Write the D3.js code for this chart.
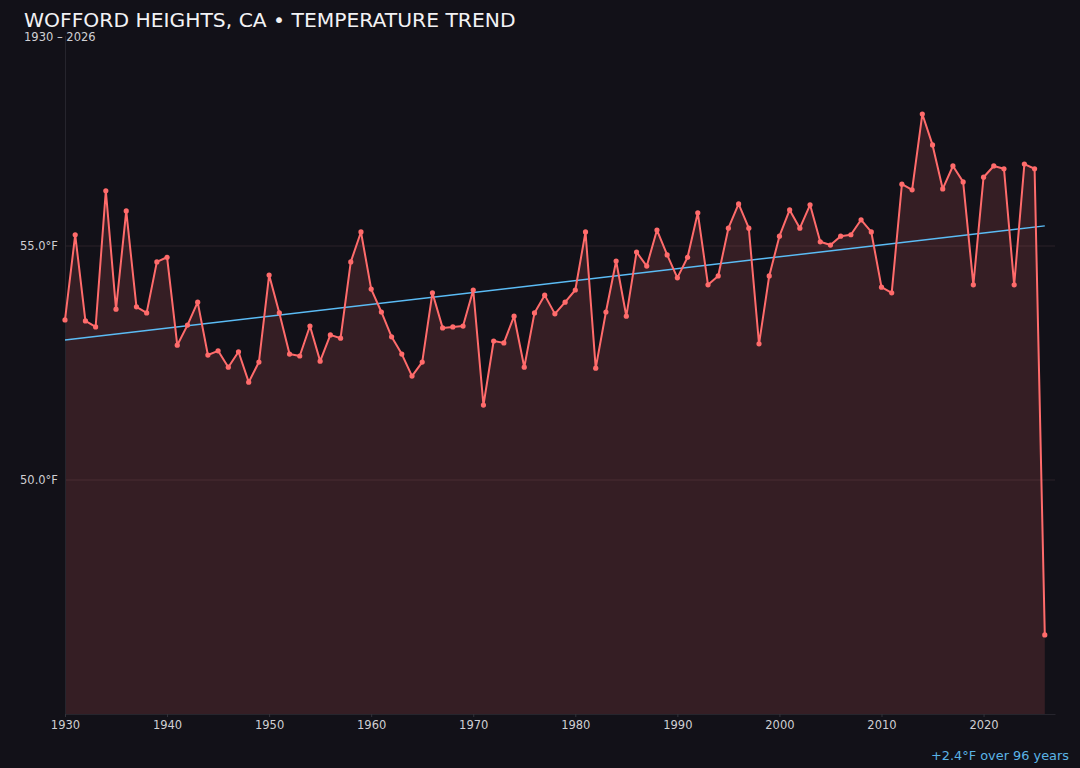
<!DOCTYPE html>
<html>
<head>
<meta charset="utf-8">
<script src="https://cdn.jsdelivr.net/npm/d3@7"></script>
<style>
  html, body { margin: 0; padding: 0; background: #121118; }
  svg { display: block; }
  text { font-family: "DejaVu Sans", sans-serif; }
</style>
</head>
<body>
<svg id="chart" width="1080" height="768"></svg>
<script>
const years = d3.range(1930, 2027);
const temps = [
  53.42, 55.24, 53.40, 53.27, 56.18, 53.65, 55.75, 53.70, 53.57, 54.66,
  54.76, 52.88, 53.31, 53.80, 52.67, 52.76, 52.41, 52.74, 52.09, 52.52,
  54.38, 53.57, 52.69, 52.65, 53.29, 52.54, 53.10, 53.03, 54.66, 55.30,
  54.08, 53.59, 53.06, 52.69, 52.22, 52.52, 54.00, 53.25, 53.27, 53.29,
  54.06, 51.60, 52.97, 52.93, 53.50, 52.41, 53.57, 53.95, 53.55, 53.80,
  54.06, 55.30, 52.39, 53.59, 54.68, 53.50, 54.87, 54.57, 55.34, 54.81,
  54.32, 54.76, 55.71, 54.17, 54.36, 55.38, 55.90, 55.38, 52.91, 54.36,
  55.21, 55.77, 55.38, 55.88, 55.09, 55.02, 55.21, 55.24, 55.56, 55.30,
  54.12, 54.00, 56.32, 56.20, 57.82, 57.16, 56.22, 56.71, 56.37, 54.17,
  56.47, 56.71, 56.65, 54.17, 56.75, 56.65, 46.69
];
const yTicks = [50, 55];
const xTicks = [1930, 1940, 1950, 1960, 1970, 1980, 1990, 2000, 2010, 2020];
const trendYears = [1930, 2026];
const trendValues = [52.99, 55.43];
const titleText = "WOFFORD HEIGHTS, CA • TEMPERATURE TREND";
const subtitleText = "1930 – 2026";
const noteText = "+2.4°F over 96 years";

const data = years.map((yr, i) => ({ year: yr, t: temps[i] }));
const svg = d3.select("#chart");
const mLeft = 65, mRight = 1055, mTop = 35.4, mBottom = 714;

const x = d3.scaleLinear().domain([1930, 2027]).range([mLeft, mRight]);
const y = d3.scaleLinear().domain([45, 59.5]).range([mBottom, mTop]);

// grid
svg.append("g").selectAll("line").data(yTicks).join("line")
  .attr("x1", mLeft).attr("x2", mRight)
  .attr("y1", d => y(d)).attr("y2", d => y(d))
  .attr("stroke", "#2a2228").attr("stroke-width", 1);

// area
const area = d3.area().x(d => x(d.year)).y0(y(45)).y1(d => y(d.t));
svg.append("path").datum(data).attr("d", area)
  .attr("fill", "#ff6b6b").attr("fill-opacity", 0.15);

// axes
const yAxis = svg.append("g").attr("transform", `translate(${mLeft},0)`)
  .call(d3.axisLeft(y).tickValues(yTicks).tickFormat(d => d.toFixed(1) + "°F").tickSize(0).tickPadding(7));
yAxis.select(".domain").attr("stroke", "#26252d");
yAxis.selectAll("text").attr("fill", "#cfcfd3").attr("font-size", 11.5)
  .attr("font-family", "DejaVu Sans, sans-serif");

const xAxis = svg.append("g").attr("transform", `translate(0,${mBottom})`)
  .call(d3.axisBottom(x).tickValues(xTicks).tickFormat(d3.format("d")).tickSize(3).tickPadding(4).tickSizeOuter(0));
xAxis.select(".domain").attr("stroke", "#26252d");
xAxis.selectAll(".tick line").attr("stroke", "#33323a");
xAxis.selectAll("text").attr("fill", "#cfcfd3").attr("font-size", 11.5)
  .attr("font-family", "DejaVu Sans, sans-serif");

// trend line
svg.append("line")
  .attr("x1", x(trendYears[0])).attr("y1", y(trendValues[0]))
  .attr("x2", x(trendYears[1])).attr("y2", y(trendValues[1]))
  .attr("stroke", "#5bbcf5").attr("stroke-width", 1.5);

// line
const line = d3.line().x(d => x(d.year)).y(d => y(d.t));
svg.append("path").datum(data).attr("d", line)
  .attr("fill", "none").attr("stroke", "#ff6b6b").attr("stroke-width", 2)
  .attr("stroke-linejoin", "round");

svg.append("g").selectAll("circle").data(data).join("circle")
  .attr("cx", d => x(d.year)).attr("cy", d => y(d.t)).attr("r", 2.6)
  .attr("fill", "#ff6b6b");

// titles
svg.append("text").attr("x", 24).attr("y", 26.5).text(titleText)
  .attr("fill", "#f2f2f4").attr("font-size", 20.3);
svg.append("text").attr("x", 24).attr("y", 41).text(subtitleText)
  .attr("fill", "#d0d0d4").attr("font-size", 11.5);
svg.append("text").attr("x", 1069).attr("y", 760).attr("text-anchor", "end").text(noteText)
  .attr("fill", "#5bb4e6").attr("font-size", 12.9);
</script>
</body>
</html>
